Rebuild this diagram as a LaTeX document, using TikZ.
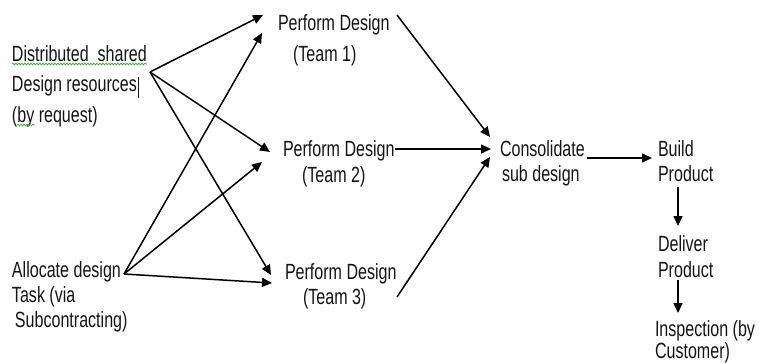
\documentclass[tikz,border=0pt]{standalone}
\usepackage{fontspec}
\setmainfont{Liberation Sans}[FakeStretch=0.73]
\usetikzlibrary{arrows.meta,decorations.pathmorphing}
\definecolor{txt}{HTML}{141414}
\definecolor{squig}{HTML}{3FA33F}
\tikzset{
  lbl/.style={anchor=north west, inner sep=0pt, outer sep=0pt, align=left, text=txt,
              font=\fontsize{22}{25}\selectfont},
  lblwide/.style={lbl, font=\fontsize{22}{30.5}\selectfont},
  conn/.style={line width=1.5pt, -{Triangle[length=10pt,width=9pt]}},
  wavy/.style={squig, line width=0.7pt, decorate, decoration={snake, segment length=3pt, amplitude=0.9pt}}
}
\begin{document}
\begin{tikzpicture}[x=1pt,y=-1pt]
\useasboundingbox (0,0) rectangle (759,363);
% nodes
\node[lblwide] (dist) at (12,45.5) {Distributed\ \ shared\\Design resources\\(by request)};
\node[lbl] (alloc) at (12,262) {Allocate design\\Task (via\\\hspace*{3pt}Subcontracting)};
\node[lblwide] (t1) at (278,15) {Perform Design\\\hspace*{15pt}(Team 1)};
\node[lbl, font=\fontsize{22}{26}\selectfont] (t2) at (283,141) {Perform Design\\\hspace*{19pt}(Team 2)};
\node[lbl] (t3) at (285,264) {Perform Design\\\hspace*{18pt}(Team 3)};
\node[lbl] (cons) at (500,141) {Consolidate\\\hspace*{2pt}sub design};
\node[lbl] (build) at (658,141) {Build\\Product};
\node[lbl, font=\fontsize{22}{26}\selectfont] (deliv) at (658,236) {Deliver\\Product};
\node[lbl, font=\fontsize{22}{22}\selectfont] (insp) at (655,321) {Inspection (by\\Customer)};
% spell-check marks and cursor
\draw[wavy] ([yshift=-18.5pt]dist.north west) -- ++(135,0);
\draw[wavy] ([xshift=5pt,yshift=-79.5pt]dist.north west) -- ++(18,0);
\draw[txt, line width=0.9pt] ([xshift=126pt,yshift=-31.5pt]dist.north west) -- ++(0,21);
% connectors from distributed resources
\draw[conn] ([xshift=138pt,yshift=-26.5pt]dist.north west) -- ([xshift=-15pt,yshift=0pt]t1.north west);
\draw[conn] ([xshift=138pt,yshift=-26.5pt]dist.north west) -- ([xshift=-13pt,yshift=-11pt]t2.north west);
\draw[conn] ([xshift=138pt,yshift=-26.5pt]dist.north west) -- ([xshift=-14pt,yshift=-11pt]t3.north west);
% connectors from allocate
\draw[conn] ([xshift=112pt,yshift=-12pt]alloc.north west) -- ([xshift=-16pt,yshift=-18pt]t1.north west);
\draw[conn] ([xshift=112pt,yshift=-12pt]alloc.north west) -- ([xshift=-21pt,yshift=-21pt]t2.north west);
\draw[conn] ([xshift=112pt,yshift=-12pt]alloc.north west) -- ([xshift=-13pt,yshift=-19pt]t3.north west);
% to consolidate
\draw[conn] ([xshift=119pt,yshift=0pt]t1.north west) -- ([xshift=-10pt,yshift=4pt]cons.north west);
\draw[conn] ([xshift=112pt,yshift=-8pt]t2.north west) -- ([xshift=-9pt,yshift=-8pt]cons.north west);
\draw[conn] ([xshift=112pt,yshift=-33pt]t3.north west) -- ([xshift=-10pt,yshift=-16pt]cons.north west);
% chain
\draw[conn] ([xshift=87pt,yshift=-17pt]cons.north west) -- ([xshift=-6pt,yshift=-17pt]build.north west);
\draw[conn] ([xshift=20pt,yshift=-46pt]build.north west) -- ([xshift=20pt,yshift=10pt]deliv.north west);
\draw[conn] ([xshift=20pt,yshift=-44pt]deliv.north west) -- ([xshift=23pt,yshift=8pt]insp.north west);
\end{tikzpicture}
\end{document}
